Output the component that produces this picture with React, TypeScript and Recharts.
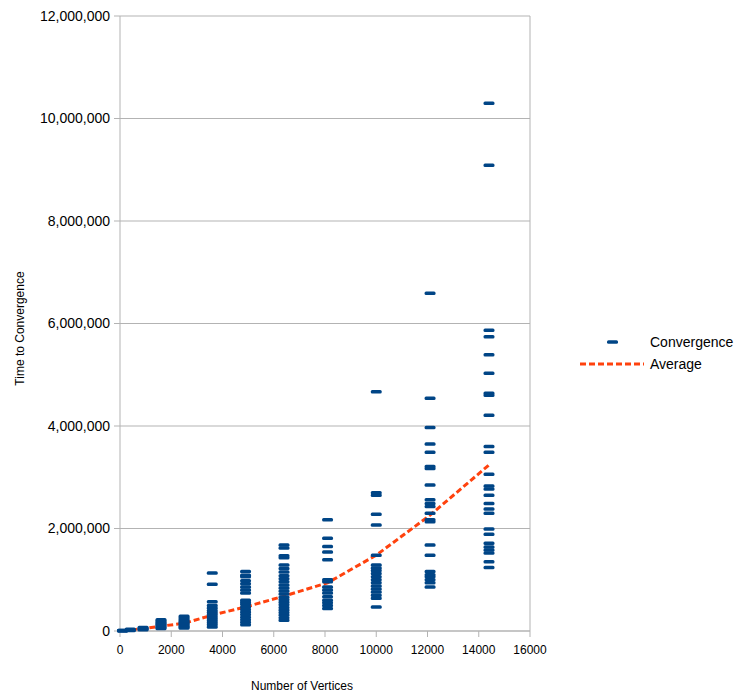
import React from 'react';
import {
  ComposedChart,
  Scatter,
  Line,
  XAxis,
  YAxis,
  CartesianGrid,
  ReferenceLine,
} from 'recharts';

// vertex counts where runs were measured
const vertices = [100, 400, 900, 1600, 2500, 3600, 4900, 6400, 8100, 10000, 12100, 14400];

// convergence times per vertex count
const runs100 = [3000, 6000, 9000, 12000];
const runs400 = [10000, 18000, 25000, 32000];
const runs900 = [25000, 40000, 55000, 70000];
const runs1600 = [50000, 70000, 90000, 110000, 130000, 150000, 175000, 200000, 220000];
const runs2500 = [60000, 80000, 100000, 120000, 140000, 160000, 180000, 200000, 230000, 260000, 290000];
const runs3600 = [80000, 120000, 160000, 200000, 240000, 280000, 320000, 360000, 400000, 450000, 500000, 570000, 910000, 1130000];
const runs4900 = [120000, 170000, 220000, 270000, 320000, 370000, 420000, 470000, 520000, 560000, 600000, 740000, 800000, 860000, 920000, 980000, 1060000, 1090000, 1160000];
const runs6400 = [210000, 260000, 310000, 360000, 410000, 460000, 510000, 560000, 610000, 660000, 720000, 780000, 840000, 900000, 960000, 1020000, 1080000, 1150000, 1220000, 1290000, 1430000, 1470000, 1620000, 1680000];
const runs8100 = [440000, 500000, 550000, 600000, 670000, 740000, 800000, 860000, 960000, 1000000, 1390000, 1540000, 1650000, 1810000, 2170000];
const runs10000 = [470000, 640000, 700000, 760000, 820000, 880000, 940000, 1000000, 1060000, 1120000, 1180000, 1230000, 1290000, 1480000, 2070000, 2280000, 2650000, 2700000, 4670000];
const runs12100 = [860000, 940000, 1000000, 1060000, 1100000, 1160000, 1480000, 1680000, 2130000, 2170000, 2300000, 2430000, 2490000, 2560000, 2850000, 3170000, 3210000, 3490000, 3650000, 3970000, 4540000, 6590000];
const runs14400 = [1240000, 1350000, 1520000, 1580000, 1640000, 1710000, 1890000, 1990000, 2300000, 2380000, 2490000, 2650000, 2770000, 2830000, 3060000, 3490000, 3600000, 4210000, 4600000, 4640000, 5030000, 5390000, 5740000, 5870000, 9090000, 10300000];

const average = [5000, 18000, 45000, 95000, 150000, 310000, 470000, 680000, 940000, 1480000, 2260000, 3240000];

const xTicks = [0, 2000, 4000, 6000, 8000, 10000, 12000, 14000, 16000];
const yTicks = [0, 2000000, 4000000, 6000000, 8000000, 10000000, 12000000];

const allRuns = [runs100, runs400, runs900, runs1600, runs2500, runs3600, runs4900, runs6400, runs8100, runs10000, runs12100, runs14400];

const scatterData = allRuns.flatMap((runs, i) => runs.map((y) => ({ x: vertices[i], y })));
const averageData = vertices.map((x, i) => ({ x, y: average[i] }));

const BLUE = '#004586';
const ORANGE = '#ff420e';
const GREY = '#b3b3b3';
const FONT = '"Liberation Sans", Arial, sans-serif';

const DashMarker = (props: any) => {
  const { cx, cy } = props;
  if (cx == null || cy == null) return null;
  return <rect x={cx - 5.5} y={cy - 1.75} width={11} height={3.5} rx={1.5} fill={BLUE} />;
};

// legend drawn outside recharts so it doesn't eat plot space
const LegendBox = () => (
  <div
    style={{
      position: 'absolute',
      left: 578,
      top: 331,
      fontFamily: FONT,
      fontSize: 14,
      color: '#000',
    }}
  >
    <div style={{ display: 'flex', alignItems: 'center', height: 22 }}>
      <svg width={72} height={10}>
        <rect x={29} y={3.25} width={11} height={3.5} rx={1.5} fill={BLUE} />
      </svg>
      <span>Convergence</span>
    </div>
    <div style={{ display: 'flex', alignItems: 'center', height: 22 }}>
      <svg width={72} height={10}>
        <line x1={2} y1={5} x2={66} y2={5} stroke={ORANGE} strokeWidth={3} strokeDasharray="6 3" />
      </svg>
      <span>Average</span>
    </div>
  </div>
);

const App = () => {
  return (
    <div style={{ position: 'absolute', left: 0, top: 0, width: 735, height: 693, background: '#fff' }}>
      <ComposedChart
        width={735}
        height={693}
        margin={{ top: 16, right: 205, bottom: 0, left: 0 }}
      >
        <CartesianGrid vertical={false} stroke={GREY} strokeWidth={1} />
        <ReferenceLine x={16000} stroke={GREY} strokeWidth={1} />
        <XAxis
          type="number"
          dataKey="x"
          domain={[0, 16000]}
          ticks={xTicks}
          interval={0}
          height={62}
          stroke={GREY}
          tickSize={6}
          tickMargin={8}
          tick={{ fill: '#000', fontSize: 12, fontFamily: FONT }}
          label={{
            value: 'Number of Vertices',
            position: 'insideBottom',
            offset: 3,
            dx: -23,
            fill: '#000',
            fontSize: 12,
            fontFamily: FONT,
          }}
        />
        <YAxis
          type="number"
          dataKey="y"
          domain={[0, 12000000]}
          ticks={yTicks}
          interval={0}
          width={120}
          stroke={GREY}
          tickSize={6}
          tickMargin={4}
          tickFormatter={(v: number) => v.toLocaleString('en-US')}
          tick={{ fill: '#000', fontSize: 14, fontFamily: FONT }}
          label={{
            value: 'Time to Convergence',
            angle: -90,
            position: 'insideLeft',
            offset: 20,
            dy: 5,
            fill: '#000',
            fontSize: 12,
            fontFamily: FONT,
            style: { textAnchor: 'middle' },
          }}
        />
        <Scatter
          name="Convergence"
          data={scatterData}
          fill={BLUE}
          shape={DashMarker}
          isAnimationActive={false}
        />
        <Line
          name="Average"
          data={averageData}
          dataKey="y"
          type="linear"
          stroke={ORANGE}
          strokeWidth={3}
          strokeDasharray="6 3"
          dot={false}
          activeDot={false}
          isAnimationActive={false}
        />
      </ComposedChart>
      <LegendBox />
    </div>
  );
};

export default App;
